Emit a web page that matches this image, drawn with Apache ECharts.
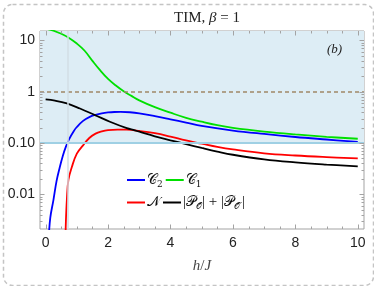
<!DOCTYPE html>
<html><head><meta charset="utf-8">
<script src="https://cdn.jsdelivr.net/npm/echarts@6/dist/echarts.min.js"></script>
<style>html,body{margin:0;padding:0;background:#fff}#c{width:374px;height:286px}</style>
</head><body><div id="c"></div>
<script>
// ---- data ----
const xRange = [-0.18, 10.2];
const yRange = [0.0021, 15.3];
const xTickLabels = [0, 2, 4, 6, 8, 10];
const xMajorTicks = [0, 2, 4, 6, 8, 10];
const xMinorTicks = [0.5, 1, 1.5, 2.5, 3, 3.5, 4.5, 5, 5.5, 6.5, 7, 7.5, 8.5, 9, 9.5];
const yMajorTicks = [0.01, 0.1, 1, 10];
const yMinorTicks = [0.003,0.004,0.005,0.006,0.007,0.008,0.009,0.02,0.03,0.04,0.05,0.06,0.07,0.08,0.09,0.2,0.3,0.4,0.5,0.6,0.7,0.8,0.9,2,3,4,5,6,7,8,9];
const yTickLabels = {0.01: '0.01', 0.1: '0.10', 1: '1', 10: '10'};

const c2X = [0.08,0.1,0.15,0.25,0.35,0.45,0.55,0.65,0.75,0.9,1.0,1.2,1.4,1.6,1.8,2.0,2.2,2.4,2.7,3.0,3.5,4.0,4.5,5,6,7,8,9,10];
const c2Y = [0.001,0.0015,0.0035,0.0077,0.018,0.033,0.056,0.085,0.118,0.17,0.205,0.27,0.32,0.355,0.38,0.395,0.402,0.403,0.398,0.38,0.335,0.29,0.25,0.215,0.175,0.15,0.131,0.117,0.105];

const c1X = [0,0.25,0.5,0.75,1.0,1.25,1.5,1.75,2.0,2.25,2.5,2.75,3.0,3.5,4,4.5,5,5.5,6,7,8,9,10];
const c1Y = [17,15.5,13.5,11.2,8.7,6.3,4.0,2.6,1.78,1.32,1.02,0.83,0.68,0.50,0.39,0.31,0.26,0.222,0.197,0.167,0.147,0.132,0.121];

const nX = [0.63,0.65,0.68,0.73,0.84,1.0,1.2,1.4,1.6,1.8,2.0,2.3,2.6,3.0,3.5,4,4.5,5,5.5,6,7,8,9,10];
const nY = [0.001,0.003,0.0077,0.019,0.034,0.062,0.09,0.125,0.152,0.168,0.178,0.183,0.182,0.172,0.155,0.133,0.112,0.097,0.084,0.075,0.063,0.057,0.053,0.05];

const pX = [0,0.3,0.68,1.1,1.58,2.06,2.6,2.86,3.13,3.5,4.0,4.5,5,5.5,6,7,8,9,10];
const pY = [0.71,0.67,0.59,0.47,0.35,0.26,0.195,0.177,0.157,0.135,0.113,0.095,0.08,0.068,0.059,0.048,0.042,0.038,0.035];

const shadeFrom = 0.1;
const dashedLevel = 1;
const vLine = 0.7;

const legendText = {
  C2: '{s|𝒞}{sub|2}',
  C1: '{s|𝒞}{sub|1}',
  N: '{s|𝒩}',
  P: '{t||}{s|𝒫}{sub|𝒪}{t|| + |}{s|𝒫}{sub|𝒪′}{t||}'
};

const zip = (xs, ys) => xs.map((x, i) => [x, ys[i]]);

const chart = echarts.init(document.getElementById('c'), null, {renderer: 'canvas'});
const frameColor = '#a3a3a3';

function tickSeries(vals, axis, len) {
  return {
    type: 'custom', silent: true, z: 6,
    data: vals.map(v => axis === 'x' ? [v, 1] : [1, v]),
    renderItem: function (params, api) {
      const cs = params.coordSys;
      const st = {stroke: frameColor, lineWidth: 1};
      if (axis === 'x') {
        const px = Math.round(api.coord([api.value(0), 1])[0]) + 0.5;
        return {type: 'group', children: [
          {type: 'line', shape: {x1: px, y1: cs.y + cs.height, x2: px, y2: cs.y + cs.height - len}, style: st},
          {type: 'line', shape: {x1: px, y1: cs.y, x2: px, y2: cs.y + len}, style: st}
        ]};
      } else {
        const py = Math.round(api.coord([1, api.value(1)])[1]) + 0.5;
        return {type: 'group', children: [
          {type: 'line', shape: {x1: cs.x, y1: py, x2: cs.x + len, y2: py}, style: st},
          {type: 'line', shape: {x1: cs.x + cs.width, y1: py, x2: cs.x + cs.width - len, y2: py}, style: st}
        ]};
      }
    }
  };
}

const richLegend = {
  s: {fontFamily: 'DejaVu Serif', fontSize: 14, color: '#111', lineHeight: 18},
  sub: {fontFamily: 'DejaVu Serif', fontSize: 9, color: '#111', verticalAlign: 'bottom', lineHeight: 14},
  t: {fontFamily: 'Liberation Serif', fontSize: 15, color: '#111', lineHeight: 18}
};

const lineStyle = (color) => ({color: color, width: 1.8});

const option = {
  animation: false,
  backgroundColor: '#fff',
  title: {
    text: '{r|TIM, }{i|β}{r| = 1}',
    left: 202, top: 6, textAlign: 'center',
    textStyle: {
      fontWeight: 'normal',
      rich: {
        r: {fontFamily: 'Liberation Serif', fontSize: 15, fontWeight: 'normal', color: '#222'},
        i: {fontFamily: 'Liberation Serif', fontSize: 15, fontWeight: 'normal', fontStyle: 'italic', color: '#222'}
      }
    }
  },
  grid: {left: 40, right: 10, top: 31, bottom: 57, show: true, borderColor: frameColor, borderWidth: 1, backgroundColor: 'transparent'},
  legend: [
    {data: ['C2', 'C1'], left: 122, top: 168, orient: 'horizontal', itemGap: 3, itemWidth: 18, itemHeight: 2, icon: 'rect',
     formatter: n => legendText[n], textStyle: {rich: richLegend, padding: [0, 0, 0, -3]}},
    {data: ['N', 'P'], left: 122, top: 190, orient: 'horizontal', itemGap: 3, itemWidth: 18, itemHeight: 2, icon: 'rect',
     formatter: n => legendText[n], textStyle: {rich: richLegend, padding: [0, 0, 0, -3]}}
  ],
  xAxis: {
    type: 'value', min: xRange[0], max: xRange[1],
    axisLine: {show: false}, axisTick: {show: false}, splitLine: {show: false},
    axisLabel: {customValues: xTickLabels, color: '#222', fontFamily: 'Liberation Sans', fontSize: 14, margin: 7, formatter: v => String(Math.round(v))},
    name: '{i|h}{r|/}{i|J}', nameLocation: 'middle', nameGap: 30,
    nameTextStyle: {rich: {
      i: {fontFamily: 'Liberation Serif', fontStyle: 'italic', fontSize: 15, color: '#444'},
      r: {fontFamily: 'Liberation Serif', fontSize: 15, color: '#444'}
    }}
  },
  yAxis: {
    type: 'log', logBase: 10, min: yRange[0], max: yRange[1],
    axisLine: {show: false}, axisTick: {show: false}, splitLine: {show: false}, minorTick: {show: false},
    axisLabel: {
      color: '#222', fontFamily: 'Liberation Sans', fontSize: 14, margin: 5,
      showMinLabel: false, showMaxLabel: false,
      formatter: function (v) {
        for (const k in yTickLabels) { if (Math.abs(Math.log10(v) - Math.log10(+k)) < 1e-6) return yTickLabels[k]; }
        return '';
      }
    }
  },
  series: [
    {
      name: 'guides', type: 'line', data: [], z: 1, silent: true,
      markArea: {silent: true, itemStyle: {color: 'rgb(221,237,245)'},
        data: [[{yAxis: shadeFrom}, {yAxis: yRange[1]}]]},
      markLine: {silent: true, symbol: 'none', label: {show: false},
        data: [
          {yAxis: shadeFrom, lineStyle: {color: '#9fd0e4', width: 2.2, type: 'solid'}},
          {yAxis: dashedLevel, lineStyle: {color: '#a08867', width: 1.6, type: [4, 3]}},
          {xAxis: vLine, lineStyle: {color: '#d2dee5', width: 1.5, type: 'solid'}}
        ]}
    },
    {name: 'C2', type: 'line', data: zip(c2X, c2Y), showSymbol: false, smooth: 0.4, lineStyle: lineStyle('#0000ff'), itemStyle: {color: '#0000ff'}, z: 3, clip: true},
    {name: 'C1', type: 'line', data: zip(c1X, c1Y), showSymbol: false, smooth: 0.4, lineStyle: lineStyle('#00e000'), itemStyle: {color: '#00e000'}, z: 3, clip: true},
    {name: 'N', type: 'line', data: zip(nX, nY), showSymbol: false, smooth: 0.4, lineStyle: lineStyle('#ff0000'), itemStyle: {color: '#ff0000'}, z: 3, clip: true},
    {name: 'P', type: 'line', data: zip(pX, pY), showSymbol: false, smooth: 0.4, lineStyle: lineStyle('#000000'), itemStyle: {color: '#000000'}, z: 3, clip: true},
    tickSeries(xMajorTicks, 'x', 4.5),
    tickSeries(xMinorTicks, 'x', 2.5),
    tickSeries(yMajorTicks, 'y', 4.5),
    tickSeries(yMinorTicks, 'y', 2.5)
  ],
  graphic: [
    {type: 'rect', left: 1, top: 2, silent: true, z: 100,
     shape: {x: 0, y: 0, width: 370, height: 281, r: 9},
     style: {fill: 'none', stroke: '#c4c4c4', lineWidth: 1.5, lineDash: [4, 3]}},
    {type: 'text', left: 327, top: 43, silent: true, z: 100,
     style: {text: '(b)', font: 'italic 13px "Liberation Serif"', fill: '#222'}}
  ]
};
chart.setOption(option);
</script>
</body></html>
